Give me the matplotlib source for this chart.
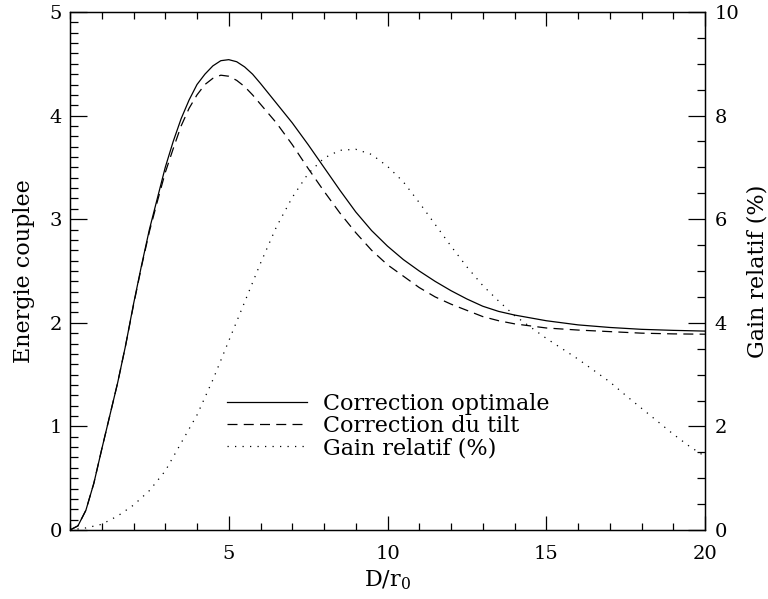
import matplotlib
matplotlib.use("Agg")
import matplotlib.pyplot as plt
from matplotlib.ticker import MultipleLocator

# ---- data ----
x_opt = [0, 0.25, 0.5, 0.75, 1.0, 1.25, 1.5, 1.75, 2.0, 2.25, 2.5, 2.75, 3.0, 3.25, 3.5, 3.75,
         4.0, 4.25, 4.5, 4.75, 5.0, 5.25, 5.5, 5.75, 6.0, 6.5, 7.0, 7.5, 8.0, 8.5, 9.0, 9.5,
         10.0, 10.5, 11.0, 11.5, 12.0, 12.5, 13.0, 13.5, 14.0, 15.0, 16.0, 17.0, 18.0, 19.0, 20.0]
y_opt = [0, 0.04, 0.19, 0.45, 0.78, 1.1, 1.42, 1.78, 2.18, 2.55, 2.9, 3.2, 3.5, 3.75, 3.97, 4.15,
         4.3, 4.4, 4.48, 4.53, 4.54, 4.52, 4.47, 4.4, 4.31, 4.12, 3.93, 3.72, 3.5, 3.28, 3.07, 2.89,
         2.74, 2.61, 2.5, 2.4, 2.31, 2.23, 2.16, 2.11, 2.075, 2.02, 1.98, 1.955, 1.937, 1.927, 1.92]

x_tilt = [0, 0.25, 0.5, 0.75, 1.0, 1.25, 1.5, 1.75, 2.0, 2.25, 2.5, 2.75, 3.0, 3.25, 3.5, 3.75,
          4.0, 4.25, 4.5, 4.75, 5.0, 5.25, 5.5, 5.75, 6.0, 6.5, 7.0, 7.5, 8.0, 8.5, 9.0, 9.5,
          10.0, 10.5, 11.0, 11.5, 12.0, 12.5, 13.0, 13.5, 14.0, 15.0, 16.0, 17.0, 18.0, 19.0, 20.0]
y_tilt = [0, 0.04, 0.19, 0.45, 0.78, 1.1, 1.42, 1.78, 2.17, 2.54, 2.88, 3.17, 3.45, 3.68, 3.9, 4.07,
          4.2, 4.3, 4.36, 4.39, 4.38, 4.34, 4.28, 4.2, 4.11, 3.93, 3.72, 3.49, 3.27, 3.06, 2.87, 2.7,
          2.56, 2.45, 2.34, 2.25, 2.18, 2.12, 2.06, 2.02, 1.99, 1.95, 1.93, 1.915, 1.9, 1.893, 1.89]

x_gain = [0, 0.5, 1.0, 1.5, 2.0, 2.5, 3.0, 3.5, 4.0, 4.5, 5.0, 5.5, 6.0, 6.5, 7.0, 7.5, 8.0,
          8.5, 9.0, 9.5, 10.0, 10.5, 11.0, 11.5, 12.0, 12.5, 13.0, 13.5, 14.0, 14.5, 15.0, 15.5,
          16.0, 16.5, 17.0, 17.5, 18.0, 18.5, 19.0, 19.5, 20.0]
y_gain = [0, 0.04, 0.11, 0.27, 0.48, 0.76, 1.14, 1.68, 2.22, 2.9, 3.65, 4.4, 5.15, 5.85, 6.42, 6.88, 7.18,
          7.33, 7.35, 7.25, 7.02, 6.72, 6.32, 5.9, 5.48, 5.08, 4.72, 4.42, 4.14, 3.92, 3.7, 3.5,
          3.3, 3.08, 2.86, 2.6, 2.35, 2.1, 1.85, 1.62, 1.42]

labels = ["Correction optimale", "Correction du tilt", "Gain relatif (%)"]
xlabel = "D/r$_0$"
ylabel_left = "Energie couplee"
ylabel_right = "Gain relatif (%)"

# ---- style ----
plt.rcParams["font.family"] = ["DejaVu Serif"]
plt.rcParams["mathtext.fontset"] = "dejavuserif"

fig = plt.figure(figsize=(7.68, 5.99), dpi=100)
ax = fig.add_axes([70 / 768, 1 - 530 / 599, 635 / 768, 518 / 599])
ax2 = ax.twinx()

lw = 0.9
h1, = ax.plot(x_opt, y_opt, color="black", lw=lw, label=labels[0])
h2, = ax.plot(x_tilt, y_tilt, color="black", lw=lw, dashes=(8, 5), label=labels[1])
h3, = ax2.plot(x_gain, y_gain, color="black", lw=lw, dashes=(1, 5), label=labels[2])

ax.set_xlim(0, 20)
ax.set_ylim(0, 5)
ax2.set_ylim(0, 10)

ax.xaxis.set_major_locator(MultipleLocator(5))
ax.xaxis.set_minor_locator(MultipleLocator(1))
ax.yaxis.set_major_locator(MultipleLocator(1))
ax.yaxis.set_minor_locator(MultipleLocator(0.1))
ax2.yaxis.set_major_locator(MultipleLocator(2))
ax2.yaxis.set_minor_locator(MultipleLocator(0.5))

ax.set_xticks([5, 10, 15, 20])
TS = 14
ax.tick_params(axis="x", which="both", direction="in", top=True, bottom=True, labelsize=TS, pad=11)
ax.tick_params(axis="x", which="major", length=10, width=0.9)
ax.tick_params(axis="x", which="minor", length=5, width=0.9)
ax.tick_params(axis="y", which="both", direction="in", left=True, right=False, labelsize=TS, pad=6)
ax.tick_params(axis="y", which="major", length=12, width=0.9)
ax.tick_params(axis="y", which="minor", length=6, width=0.9)
ax2.tick_params(axis="y", which="both", direction="in", right=True, labelsize=TS, pad=7)
ax2.tick_params(axis="y", which="major", length=12, width=0.9)
ax2.tick_params(axis="y", which="minor", length=6, width=0.9)

for a in (ax, ax2):
    for s in a.spines.values():
        s.set_linewidth(0.9)

LS = 16
ax.set_xlabel(xlabel, fontsize=LS, labelpad=4)
ax.set_ylabel(ylabel_left, fontsize=LS, labelpad=10)
ax2.set_ylabel(ylabel_right, fontsize=LS, labelpad=5)

leg = ax.legend(handles=[h1, h2, h3], loc="upper left", bbox_to_anchor=(157 / 635, 137 / 518),
                frameon=False, fontsize=LS, handlelength=3.6, handletextpad=0.72,
                labelspacing=0.0, borderpad=0, borderaxespad=0)

fig.savefig("out.png", dpi=100)
